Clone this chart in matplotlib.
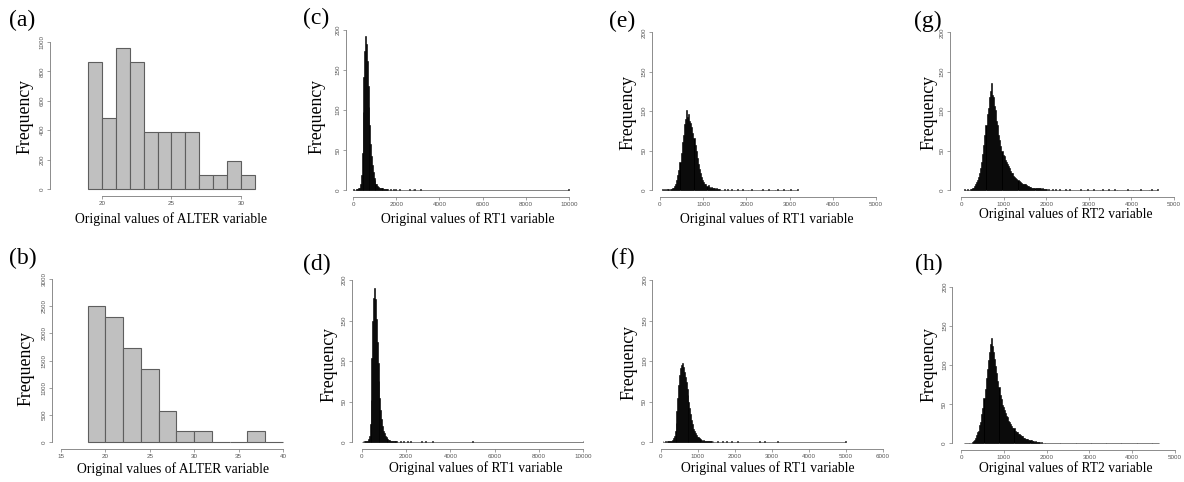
import numpy as np
import matplotlib
matplotlib.use('Agg')
import matplotlib.pyplot as plt

plt.rcParams['font.family'] = ['Liberation Serif', 'DejaVu Serif']

W, H = 1184, 482

# ---- data (bin start, bin width, counts) ----
# (a) ALTER, original
alter_a_start, alter_a_width = 19, 1
alter_a_counts = [865, 480, 960, 865, 385, 385, 385, 385, 95, 95, 192, 95]

# (b) ALTER
alter_b_start, alter_b_width = 18, 2
alter_b_counts = [2500, 2300, 1730, 1350, 577, 196, 196, 0, 0, 196, 0]

# (c) RT1, bins of 40 from 0
rt1_c_start, rt1_c_width = 0, 40
rt1_c_counts = [1, 0, 0, 1, 1, 1, 2, 3, 7, 19, 46, 97, 141, 174, 193, 182, 161,
                130, 104, 81, 57, 43, 31, 22, 15, 12, 8, 7, 5, 4, 3, 3, 2, 2,
                2, 1, 1, 1, 1, 1]
rt1_c_tail = [1720, 1850, 1980, 2150, 2600, 2780, 2850, 3150, 9990]

# (d) RT1
rt1_d_start, rt1_d_width = 0, 40
rt1_d_counts = [0, 1, 0, 1, 1, 1, 2, 4, 8, 22, 52, 104, 150, 178, 190, 176, 152,
                124, 98, 76, 54, 40, 29, 20, 14, 11, 8, 6, 5, 4, 3, 3, 2, 2,
                1, 1, 1, 1, 1, 1]
rt1_d_tail = [1750, 1900, 2050, 2200, 2700, 2850, 3180, 4980, 9990]

# (e) RT1, bins of 25 from 50
rt1_e_start, rt1_e_width = 50, 25
rt1_e_counts = [1, 0, 1, 0, 1, 1, 0, 1, 1, 2, 3, 5, 8, 13, 19, 25, 36, 47, 61,
                70, 84, 90, 101, 93, 97, 88, 85, 80, 72, 66, 57, 49, 41, 33, 27,
                21, 16, 13, 10, 8, 7, 5, 6, 4, 3, 4, 2, 3, 2, 1, 2, 1, 1, 1]
rt1_e_tail = [1480, 1560, 1650, 1780, 1900, 2100, 2350, 2500, 2700, 2850,
              3000, 3180]

# (f) RT1
rt1_f_start, rt1_f_width = 50, 25
rt1_f_counts = [1, 0, 0, 1, 0, 1, 1, 1, 2, 2, 3, 5, 8, 14, 24, 38, 55, 70, 83,
                92, 95, 98, 93, 87, 81, 74, 66, 58, 50, 42, 35, 28, 22, 17, 14,
                11, 9, 7, 6, 5, 4, 4, 3, 2, 3, 2, 2, 1, 1, 2, 1, 1, 1]
rt1_f_tail = [1420, 1530, 1650, 1780, 1900, 2080, 2650, 2820, 3150, 4990]

# (g) RT2, bins of 25 from 75
rt2_g_start, rt2_g_width = 75, 25
rt2_g_counts = [1, 0, 0, 1, 0, 1, 1, 2, 3, 5, 8, 10, 13, 17, 22, 28, 36, 46,
                57, 70, 82, 96, 104, 118, 126, 136, 121, 118, 106, 101, 88, 82,
                70, 63, 56, 50, 45, 43, 38, 36, 33, 30, 28, 24, 22, 21, 18, 17,
                15, 14, 13, 12, 10, 9, 8, 8, 7, 7, 6, 5, 5, 4, 4, 3, 3, 3, 3,
                2, 3, 2, 2, 2, 1, 2, 1, 1, 1, 1]
rt2_g_tail = [2050, 2130, 2200, 2320, 2450, 2530, 2800, 2950, 3100, 3300,
              3450, 3600, 3900, 4200, 4450, 4600]

# (h) RT2
rt2_h_start, rt2_h_width = 75, 25
rt2_h_counts = [1, 0, 1, 0, 0, 1, 1, 2, 3, 4, 7, 10, 14, 16, 23, 27, 37, 45,
                58, 69, 83, 95, 106, 116, 127, 135, 124, 116, 108, 99, 90, 80,
                72, 62, 57, 49, 46, 42, 39, 35, 34, 29, 27, 25, 22, 20, 19, 16,
                15, 14, 12, 12, 10, 9, 9, 7, 7, 6, 6, 5, 4, 4, 4, 3, 3, 2, 3,
                2, 2, 2, 2, 1, 2, 1, 1, 1, 1, 1]
rt2_h_tail = [2060, 2120, 2250, 2330, 2480, 2550, 2780, 2980, 3120, 3280,
              3480, 3620, 3880, 4220, 4480, 4610]

panel_letters = ['(a)', '(b)', '(c)', '(d)', '(e)', '(f)', '(g)', '(h)']
xlabels = ['Original values of ALTER variable'] * 2 + \
          ['Original values of RT1 variable'] * 4 + \
          ['Original values of RT2 variable'] * 2


def hist_bars(ax, start, width, counts, tail=None, face='black', edge='black', lw=0.4):
    c = np.array(counts, dtype=float)
    if tail:
        n = int((max(tail) - start) // width) + 1
        if n > len(c):
            c = np.concatenate([c, np.zeros(n - len(c))])
        for t in tail:
            c[int((t - start) // width)] += 1
    left = start + width * np.arange(len(c))
    ax.bar(left, c, width=width, align='edge', color=face, edgecolor=edge,
           linewidth=lw)


def make_axes(fig, spine_x, ref_val, ref_px, kx, spine_y, zero_py, ky, xmax, ymax):
    x0 = ref_val - (ref_px - spine_x) / kx
    y0 = -(spine_y - zero_py) / ky
    wpx = (xmax - x0) * kx
    hpx = (ymax - y0) * ky
    ax = fig.add_axes([spine_x / W, (H - spine_y) / H, wpx / W, hpx / H])
    ax.set_xlim(x0, xmax)
    ax.set_ylim(y0, ymax)
    return ax


def r_style(ax, xticks, yticks):
    for s in ['top', 'right']:
        ax.spines[s].set_visible(False)
    for s in ['left', 'bottom']:
        ax.spines[s].set_color('#7a7a7a')
        ax.spines[s].set_linewidth(0.6)
    ax.spines['bottom'].set_bounds(xticks[0], xticks[-1])
    ax.spines['left'].set_bounds(yticks[0], yticks[-1])
    ax.set_xticks(xticks)
    ax.set_yticks(yticks)
    ax.set_xticklabels([str(v) for v in xticks], family=['Liberation Sans', 'DejaVu Sans'])
    ax.set_yticklabels([str(v) for v in yticks], family=['Liberation Sans', 'DejaVu Sans'],
                       rotation=90, va='center')
    ax.tick_params(axis='both', length=2.2, width=0.5, color='#7a7a7a',
                   labelsize=4.5, labelcolor='#555555', pad=1.5)


fig = plt.figure(figsize=(W / 100, H / 100), dpi=100)

# axes geometry in pixels: spine_x, ref value, its px, px/unit, spine_y, zero px, px/unit, xmax, ymax
geo = [
    (50, 20, 102, 13.9, 196, 189, 0.147, 31.5, 1020),
    (52, 15, 61, 8.88, 449, 442, 0.05433, 41, 3050),
    (346, 0, 353, 0.0216, 197, 190, 0.8, 10100, 202),
    (352, 0, 361.7, 0.02217, 449.3, 442.3, 0.8115, 10100, 202),
    (651.7, 0, 660, 0.0432, 196.7, 190, 0.788, 5100, 202),
    (652.3, 0, 660.7, 0.037, 449.3, 442.3, 0.8115, 6100, 202),
    (950, 0, 961, 0.0426, 196.7, 190, 0.788, 5100, 202),
    (952.3, 0, 961, 0.0428, 450, 443.3, 0.783, 5100, 202),
]
xt = [[20, 25, 30], list(range(15, 41, 5)),
      list(range(0, 10001, 2000)), list(range(0, 10001, 2000)),
      list(range(0, 5001, 1000)), list(range(0, 6001, 1000)),
      list(range(0, 5001, 1000)), list(range(0, 5001, 1000))]
yt = [list(range(0, 1001, 200)), list(range(0, 3001, 500))] + [list(range(0, 201, 50))] * 6

axes = [make_axes(fig, *g) for g in geo]

hist_bars(axes[0], alter_a_start, alter_a_width, alter_a_counts, face='#c0c0c0', edge='#5e5e5e', lw=0.8)
hist_bars(axes[1], alter_b_start, alter_b_width, alter_b_counts, face='#c0c0c0', edge='#5e5e5e', lw=0.8)
hist_bars(axes[2], rt1_c_start, rt1_c_width, rt1_c_counts, rt1_c_tail)
hist_bars(axes[3], rt1_d_start, rt1_d_width, rt1_d_counts, rt1_d_tail)
hist_bars(axes[4], rt1_e_start, rt1_e_width, rt1_e_counts, rt1_e_tail)
hist_bars(axes[5], rt1_f_start, rt1_f_width, rt1_f_counts, rt1_f_tail)
hist_bars(axes[6], rt2_g_start, rt2_g_width, rt2_g_counts, rt2_g_tail)
hist_bars(axes[7], rt2_h_start, rt2_h_width, rt2_h_counts, rt2_h_tail)

for ax, a, b in zip(axes, xt, yt):
    r_style(ax, a, b)

# text positions (pixels)
letter_pos = [(22, 20), (23, 258), (316, 18), (317, 264), (622, 21), (623, 258), (928, 21), (929, 264)]
freq_pos = [(25, 116), (26, 368), (317, 117), (329, 364), (628, 113), (629, 363), (929, 113), (929, 364)]
xlab_pos = [(171, 219), (173, 469), (468, 219), (476, 468), (767, 219), (768, 468), (1066, 214), (1066, 468)]

for i in range(8):
    lx, ly = letter_pos[i]
    fig.text(lx / W, 1 - ly / H, panel_letters[i], fontsize=17, ha='center', va='center')
    fx, fy = freq_pos[i]
    fig.text(fx / W, 1 - fy / H, 'Frequency', fontsize=12.8, rotation=90, ha='center', va='center')
    tx, ty = xlab_pos[i]
    fig.text(tx / W, 1 - ty / H, xlabels[i], fontsize=9.8, ha='center', va='center')

fig.savefig('out.png', dpi=100)
